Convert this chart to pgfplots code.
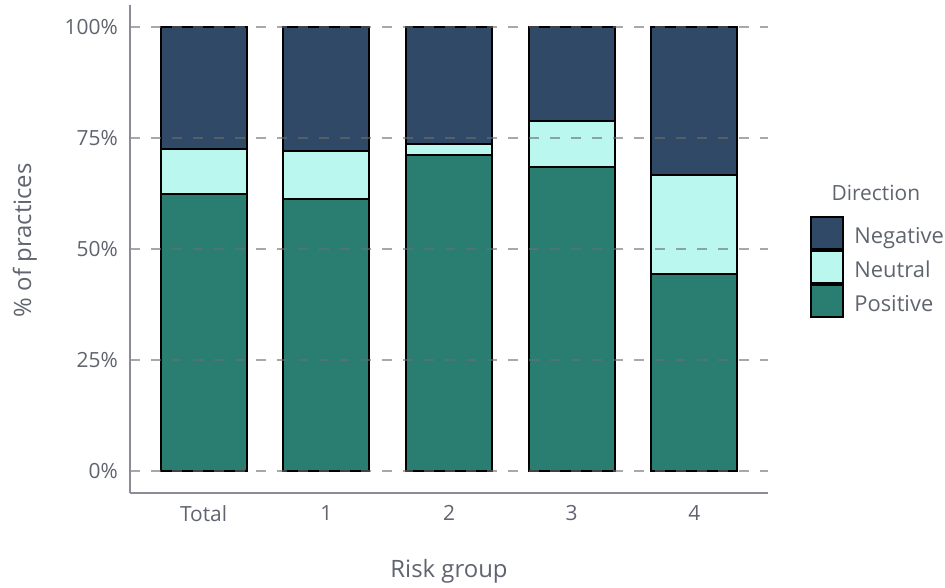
\documentclass[border=0pt]{standalone}
\usepackage{fontspec}
\setmainfont{Open Sans}
\usepackage{pgfplots}
\pgfplotsset{compat=1.18}
\definecolor{neg}{RGB}{47,73,102}
\definecolor{neu}{RGB}{186,247,238}
\definecolor{pos}{RGB}{42,126,113}
\definecolor{txt}{RGB}{95,100,110}
\definecolor{axl}{RGB}{140,140,150}
\definecolor{grd}{RGB}{110,110,110}
\begin{document}
\begin{tikzpicture}[x=1bp,y=1bp]
\path[use as bounding box] (0,0) rectangle (945,588);
\begin{axis}[
  at={(130bp,95bp)}, anchor=south west,
  scale only axis, width=638bp, height=488bp,
  xmin=-0.6, xmax=4.6, ymin=-5, ymax=105,
  clip=false,
  ybar stacked, bar width=0.7,
  xtick={0,1,2,3,4}, xticklabels={Total,1,2,3,4},
  ytick={0,25,50,75,100}, yticklabels={0\%,25\%,50\%,75\%,100\%},
  axis x line*=bottom, axis y line*=left,
  axis line style={axl, line width=2bp, -},
  major tick length=0pt,
  ymajorgrids,
  major grid style={grd, opacity=0.6, line width=2bp, dash pattern=on 10bp off 11bp},
  axis on top,
  tick label style={font=\fontsize{21}{25}\selectfont, text=txt},
  yticklabel style={anchor=east, inner sep=0pt, xshift=-12bp},
  xticklabel style={anchor=north, inner sep=0pt, yshift=-12bp},
  xlabel={Risk group}, ylabel={\% of practices},
  every axis x label/.style={at={(axis description cs:0.5,-0.16)}, anchor=center},
  every axis y label/.style={at={(axis description cs:-0.165,0.518)}, anchor=center, rotate=90},
  xlabel style={font=\fontsize{24}{28}\selectfont, text=txt},
  ylabel style={font=\fontsize{24}{28}\selectfont, text=txt},
  legend style={at={(axis description cs:1.066,0.5676)}, anchor=north west, draw=none, fill=none,
    inner sep=0pt, row sep=0bp, font=\fontsize{22}{26}\selectfont, text=txt,
    nodes={inner sep=0pt, text height=16bp, text depth=0bp},
    /tikz/every odd column/.append style={column sep=10bp}},
  legend cell align=left,
  reverse legend,
  legend image code/.code={\draw[#1] (0bp,-14bp) rectangle (32bp,18bp);},
]
\addplot[fill=pos, draw=black, line width=2bp] coordinates {(0,62.4) (1,61.2) (2,71.2) (3,68.5) (4,44.4)};
\addlegendentry{Positive}
\addplot[fill=neu, draw=black, line width=2bp] coordinates {(0,10.1) (1,10.9) (2,2.4) (3,10.3) (4,22.2)};
\addlegendentry{Neutral}
\addplot[fill=neg, draw=black, line width=2bp] coordinates {(0,27.5) (1,27.9) (2,26.4) (3,21.2) (4,33.4)};
\addlegendentry{Negative}
\node[font=\fontsize{21}{25}\selectfont, text=txt] at (axis description cs:1.169,0.615) {Direction};
\end{axis}
\end{tikzpicture}
\end{document}
